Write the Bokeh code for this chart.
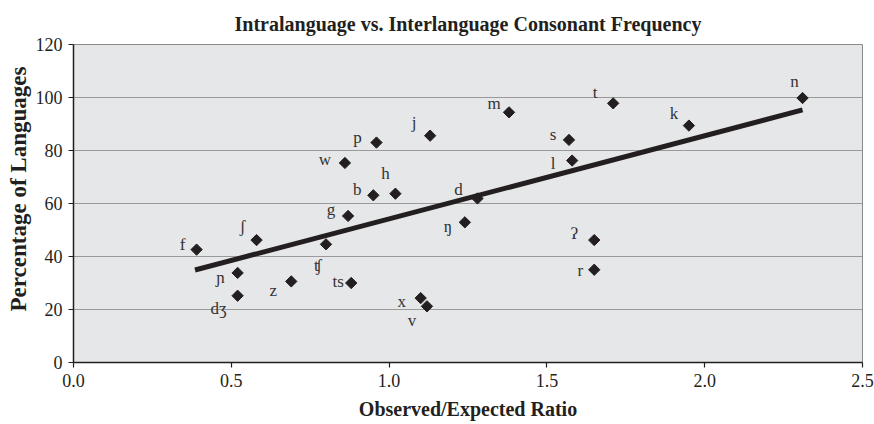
import math
from bokeh.plotting import figure
from bokeh.models import ColumnDataSource, FixedTicker, NumeralTickFormatter, Range1d, Title
from bokeh.core.properties import value
from bokeh.embed import file_html
from bokeh.resources import INLINE

# ---- data ----
labels = ["n", "t", "m", "k", "s", "l", "j", "d", "p", "w", "h", "b", "g", "ʃ", "f",
          "ʧ", "ɲ", "dʒ", "z", "ts", "x", "v", "ŋ", "ʔ", "r"]
ratio = [2.31, 1.71, 1.38, 1.95, 1.57, 1.58, 1.13, 1.28, 0.96, 0.86, 1.02, 0.95, 0.87, 0.58, 0.39,
         0.80, 0.52, 0.52, 0.69, 0.88, 1.10, 1.12, 1.24, 1.65, 1.65]
percent = [99.8, 97.8, 94.4, 89.4, 84.0, 76.2, 85.6, 61.9, 83.0, 75.3, 63.7, 63.1, 55.3, 46.2, 42.6,
           44.6, 33.8, 25.2, 30.6, 30.0, 24.3, 21.2, 52.9, 46.2, 35.0]
trend_x = [0.385, 2.31]
trend_y = [34.9, 95.3]
x_ticks = [0.0, 0.5, 1.0, 1.5, 2.0, 2.5]
y_ticks = [0, 20, 40, 60, 80, 100, 120]

# ---- label placement (screen px, styling only) ----
label_offsets = {
    "n": (-8, -17), "t": (-18, -11), "m": (-15, -9), "k": (-15, -12), "s": (-16, -5),
    "l": (-19, 3), "j": (-16, -13), "d": (-19, -9), "p": (-19, -5), "w": (-20, -3),
    "h": (-10, -20), "b": (-16, -6), "g": (-17, -6), "ʃ": (-14, -14), "f": (-14, -5),
    "ʧ": (-8, 21), "ɲ": (-17, 5), "dʒ": (-19, 13), "z": (-18, 9), "ts": (-13, -2),
    "x": (-19, 3), "v": (-15, 14), "ŋ": (-17, 4), "ʔ": (-20, -7), "r": (-14, 1),
}

src = ColumnDataSource(dict(
    x=ratio, y=percent, label=labels,
    dx=[label_offsets[l][0] for l in labels],
    dy=[label_offsets[l][1] for l in labels],
))

SERIF = "'Liberation Serif', 'DejaVu Serif', serif"
INK = "#231f20"

p = figure(frame_width=789, frame_height=318, output_backend="svg", toolbar_location=None,
           x_range=Range1d(0, 2.5), y_range=Range1d(0, 120),
           min_border_left=73, min_border_right=12, min_border_top=44, min_border_bottom=30)

p.title.text = "Intralanguage vs. Interlanguage Consonant Frequency"
p.title.align = "center"
p.title.vertical_align = "top"
p.title.text_font = SERIF
p.title.text_font_size = "20px"
p.title.text_font_style = "bold"
p.title.text_color = INK
p.title.standoff = 16

p.background_fill_color = "#e6e7e8"
p.border_fill_color = "white"
p.outline_line_color = "#8a8a8a"
p.outline_line_width = 1

p.xgrid.visible = False
p.ygrid.grid_line_color = "#9a9a9a"
p.ygrid.grid_line_width = 1.2
p.ygrid.ticker = FixedTicker(ticks=y_ticks)

p.xaxis.ticker = FixedTicker(ticks=x_ticks)
p.yaxis.ticker = FixedTicker(ticks=y_ticks)
p.xaxis.formatter = NumeralTickFormatter(format="0.0")
for ax in (p.xaxis, p.yaxis):
    ax.axis_line_color = INK
    ax.axis_line_width = 1.5
    ax.major_tick_line_color = INK
    ax.major_tick_line_width = 1.2
    ax.major_tick_in = 0
    ax.major_tick_out = 5
    ax.minor_tick_line_color = None
    ax.major_label_text_font = SERIF
    ax.major_label_text_font_size = "18px"
    ax.major_label_text_color = INK
    ax.axis_label_text_font = SERIF
    ax.axis_label_text_font_size = "20px"
    ax.axis_label_text_font_style = "bold"
    ax.axis_label_text_color = INK

p.xaxis.axis_label = "Observed/Expected Ratio"
p.xaxis.major_label_standoff = 6
p.xaxis.axis_label_standoff = 8
p.yaxis.major_label_standoff = 6

# y-axis title, placed like the reference (a little above the frame's centre)
p.add_layout(Title(text="Percentage of Languages", align="left", offset=51,
                   text_font=SERIF, text_font_size="23px", text_font_style="bold",
                   text_color=INK, standoff=4), "left")

p.line(trend_x, trend_y, line_color=INK, line_width=5)
p.scatter("x", "y", source=src, marker="square", size=8, angle=math.pi / 4,
          fill_color=INK, line_color=INK)
p.text("x", "y", text="label", source=src, x_offset="dx", y_offset="dy",
       text_align="center", text_baseline="middle",
       text_font=value(SERIF), text_font_size="17px", text_color="#333333")

open("out.html", "w").write(file_html(p, INLINE))
